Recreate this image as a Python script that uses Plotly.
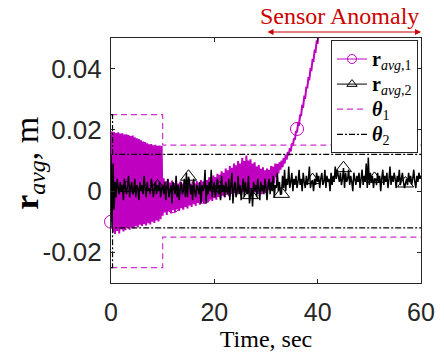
import numpy as np
import plotly.graph_objects as go

# ---------------- data (values in mm, i.e. 1e-3 m) ----------------
# r_avg,1 : sampled every 0.2 s from 0 to 41 s
r1_mm = [
    # 0 - 9.8 s
    -10, 19.5, -13.5, 19.3, -14, 19.0, -13, 19.2, -13.8, 18.8,
    -12.5, 18.9, -13.2, 18.5, -12.8, 18.6, -12, 18.3, -12.6, 18.0,
    -11.8, 18.2, -12.2, 17.6, -11.5, 17.3, -11.9, 17.0, -11.0, 16.6,
    -11.4, 16.2, -10.8, 16.0, -11.2, 15.6, -10.5, 15.3, -10.9, 15.4,
    -10.0, 15.0, -10.4, 15.1, -9.6, 14.8, -9.9, 14.9, -9.2, 14.7,
    # 10 - 31.8 s
    -8.0, 4.2, -7.0, 3.2, -7.8, 3.9, -6.6, 2.8, -7.3, 3.5,
    -6.2, 2.6, -6.9, 3.3, -6.0, 2.5, -6.5, 3.1, -5.6, 2.4,
    -6.1, 3.1, -5.2, 2.3, -5.7, 3.0, -4.7, 2.4, -5.2, 3.2,
    -4.3, 2.5, -4.8, 3.3, -3.9, 2.8, -4.4, 3.6, -3.5, 3.1,
    -4.0, 4.0, -3.1, 3.6, -3.6, 4.5, -2.7, 4.0, -3.2, 5.1,
    -2.3, 4.6, -2.8, 5.7, -1.9, 5.3, -2.4, 6.5, -1.5, 6.0,
    -2.0, 7.4, -1.2, 6.8, -1.7, 8.2, -0.9, 7.6, -1.4, 9.0,
    -0.6, 8.4, -1.1, 9.8, -0.4, 9.0, -0.9, 10.8, -0.2, 9.8,
    -0.7, 11.6, -0.1, 10.0, -0.6, 10.4, -0.2, 9.0, -0.8, 9.4,
    -0.3, 8.0, -0.9, 8.5, -0.3, 7.3, -1.0, 7.8, -0.2, 6.8,
    -0.6, 7.4, 0.4, 7.0, 0.6, 8.2, 2.2, 8.0, 2.6, 9.0,
    # 32 - 41 s (sensor anomaly drift)
    4.5, 8.8, 5.8, 9.4, 7.0, 10.0, 7.8, 10.8, 9.0, 11.8,
    10.3, 12.8, 11.6, 14.0, 13.0, 15.6, 14.8, 17.2, 16.8, 19.6,
    19.2, 22.0, 21.8, 24.8, 24.8, 27.8, 27.6, 30.8, 30.6, 33.8,
    33.8, 36.8, 36.6, 39.8, 39.6, 42.8, 42.6, 45.8, 45.6, 48.8,
    48.6, 51.8, 51.6, 54.8, 54.6, 57.8,
]
r1_step = 0.2

# r_avg,2 : sampled every 0.2 s from 0 to 60 s
r2_mm = [
    12, -12, 9, -6, 3, -2, 4, 1, -1, 3,
    0, 2, -3, 4, 1, -1, 2, 5, -2, 1,
    3, -1, 0, 4, -2, 2, 1, -3, 3, 0,
    2, -1, 5, 1, -2, 3, 0, 1, -1, 4,
    2, -2, 1, 3, -1, 2, 0, 3, -2, 1,
    2, -1, 3, -3, 1, 4, -2, 0, 2, -4,
    3, 1, -1, 5, -2, 2, -3, 1, 3, -1,
    0, 4, -2, 6, -2, 4.7, 3, -1, 2, -3,
    4, 0, -2, 2, 1, -1, 3, -4, 2, 0,
    1, 7, -4, 2, -1, 3, 0, 7, -2, 1,
    3, -2, 1, 4, -1, 2, -3, 5, 0, 2,
    -2, 3, 1, -1, 4, -3, 2, 6, -4, 1,
    3, -2, 0, 5, -1, 2, -3, 1, 4, -2,
    3, 0, -1, 5, -4, -1.3, 1, -5, 3, 0,
    2, -2, 4, 1, -3, 3, 0, 2, -1, 4,
    1, -3, 2, 4, -1, 3, 0, 5, -2, 2,
    1, 6, 0, 3, -1, -0.9, 5, 1, 7, 0,
    4, 2, 8, 1, 3, 6, 0, 4, 2, 5,
    1, 3, 7, 2, 4, 0, 6, 3, 1, 5,
    2, 4, 8, 1, 3, 3.6, 0, 4, 2, 6,
    3, 5, 1, 4, 6, 2, 3, 7, 1, 5,
    3, 4, 0, 6, 2, 5, 3, 8, 4, 7,
    5, 3, 6, 2, 4, 7.5, 1, 6, 3, 4,
    7, 2, 5, 3, 0, 6, 4, 2, 5, 3,
    6, 1, 4, 7, 2, 5, 3, 9, 1, 11,
    2, 6, 3, 5, 1, 4, 4, 2, 6, 3,
    5, 0, 4, 7, 2, 5, 3, 6, 1, 4,
    8, 2, 5, 3, 6, 4, 1, 5, 3, 7,
    2, 4, 6, 3, 1, 2.5, 4, 2, 6, 3,
    5, 2, 4, 7, 3, 1, 5, 3, 6, 4, 5,
]
r2_step = 0.2

# marker positions
r1_mark_t = [0, 6, 12, 18, 24, 30, 36]
r1_mark_mm = [-10, 3, -4.9, -1.9, 4, 4.2, 20.3]
r2_mark_t = [3, 9, 15, 21, 27, 33, 39, 45, 51, 57]
r2_mark_mm = [1, 1.5, 4.7, 1, -1.3, -0.9, 3.6, 7.5, 4, 2.5]

# thresholds
theta1_t = [0, 10, 10, 60]
theta1_mm = [25, 25, 15, 15]
theta2_t = [0, 0.3, 0.3, 60]
theta2_mm = [25, 25, 12, 12]

x_ticks = [0, 20, 40, 60]
y_ticks = [-0.02, 0, 0.02, 0.04]
y_ticklabels = ["-0.02", "0", "0.02", "0.04"]

# ---------------- figure ----------------
MAG = "#C000C0"
MAGD = "#D030D0"
AX = "#262626"
SERIF = "Liberation Serif"
SANS = "Liberation Sans"

t1 = np.round(np.arange(len(r1_mm)) * r1_step, 2)
t2 = np.round(np.arange(len(r2_mm)) * r2_step, 2)
r1 = np.array(r1_mm) / 1000.0
r2 = np.array(r2_mm) / 1000.0


def lg(txt):
    return "<span style='font-size:20px'>" + txt + "</span>"


fig = go.Figure()

# legend-only entries (no data)
fig.add_trace(go.Scatter(x=[None], y=[None], mode="lines+markers",
                         name=lg("<b>r</b><sub><i>avg</i>,1</sub>"),
                         line=dict(color=MAG, width=1),
                         marker=dict(symbol="circle-open", size=9, color=MAG, line=dict(width=1))))
fig.add_trace(go.Scatter(x=[None], y=[None], mode="lines+markers",
                         name=lg("<b>r</b><sub><i>avg</i>,2</sub>"),
                         line=dict(color="black", width=1),
                         marker=dict(symbol="triangle-up-open", size=9, color="black", line=dict(width=1))))

fig.add_trace(go.Scatter(x=t1, y=r1, mode="lines", showlegend=False,
                         line=dict(color=MAG, width=2, simplify=False)))
fig.add_trace(go.Scatter(x=r1_mark_t, y=np.array(r1_mark_mm) / 1000.0, mode="markers",
                         showlegend=False, cliponaxis=False,
                         marker=dict(symbol="circle-open", size=13, color=MAG, line=dict(width=1))))
fig.add_trace(go.Scatter(x=t2, y=r2, mode="lines", showlegend=False,
                         line=dict(color="black", width=1.5, simplify=False)))
fig.add_trace(go.Scatter(x=r2_mark_t, y=np.array(r2_mark_mm) / 1000.0, mode="markers",
                         showlegend=False, cliponaxis=False,
                         marker=dict(symbol="triangle-up-open", size=14, color="black", line=dict(width=1))))

th1_x = theta1_t + [None] + theta1_t
th1_y = [v / 1000.0 for v in theta1_mm] + [None] + [-v / 1000.0 for v in theta1_mm]
fig.add_trace(go.Scatter(x=th1_x, y=th1_y, mode="lines", name=lg("<b><i>θ</i></b><sub>1</sub>"),
                         line=dict(color=MAGD, width=1.2, dash="6px,4px")))
th2_x = theta2_t + [None] + theta2_t
th2_y = [v / 1000.0 for v in theta2_mm] + [None] + [-v / 1000.0 for v in theta2_mm]
fig.add_trace(go.Scatter(x=th2_x, y=th2_y, mode="lines", name=lg("<b><i>θ</i></b><sub>2</sub>"),
                         line=dict(color="black", width=1.2, dash="6px,2px,2px,2px")))

fig.update_layout(
    width=444, height=356,
    margin=dict(l=111, r=23, t=38, b=73),
    paper_bgcolor="white", plot_bgcolor="white",
    showlegend=True,
    legend=dict(x=0.9903, y=0.99, xanchor="right", yanchor="top",
                bgcolor="white", bordercolor=AX, borderwidth=1,
                font=dict(family=SERIF, size=17, color="black"),
                tracegroupgap=0),
    xaxis=dict(range=[0, 60], tickvals=x_ticks, ticks="inside", ticklen=4,
               tickcolor=AX, showline=True, linecolor=AX, linewidth=1, mirror="ticks",
               showgrid=False, zeroline=False, ticklabelstandoff=7, automargin=False,
               tickfont=dict(family=SANS, size=25, color=AX),
               title=dict(text="Time, sec", font=dict(family=SERIF, size=24, color="black"),
                          standoff=5)),
    yaxis=dict(range=[-0.03, 0.05], tickvals=y_ticks, ticktext=y_ticklabels,
               ticks="inside", ticklen=4, tickcolor=AX, showline=True, linecolor=AX,
               linewidth=1, mirror="ticks", showgrid=False, zeroline=False,
               ticklabelstandoff=3, automargin=False,
               tickfont=dict(family=SANS, size=26, color=AX)),
    annotations=[
        dict(text="<b>r</b><sub><i>avg</i></sub>, m", xref="paper", yref="paper",
             x=-0.265, y=0.49, xanchor="center", yanchor="middle", textangle=-90,
             showarrow=False, font=dict(family=SERIF, size=34, color="black")),
        dict(text="Sensor Anomaly", xref="paper", yref="paper", x=0.7355, y=1.0898,
             xanchor="center", yanchor="middle", showarrow=False,
             font=dict(family=SERIF, size=24, color="#CC0000")),
        dict(text="", xref="paper", yref="paper", x=1.0, y=1.0245, axref="pixel",
             ayref="pixel", ax=-155, ay=0, showarrow=True, arrowside="end+start",
             arrowhead=2, arrowsize=1, arrowwidth=1.2, arrowcolor="#CC0000",
             standoff=0, startstandoff=0),
    ],
)

fig.write_html("out.html", config={"displayModeBar": False},
               post_script="document.body.style.margin='0px';")
